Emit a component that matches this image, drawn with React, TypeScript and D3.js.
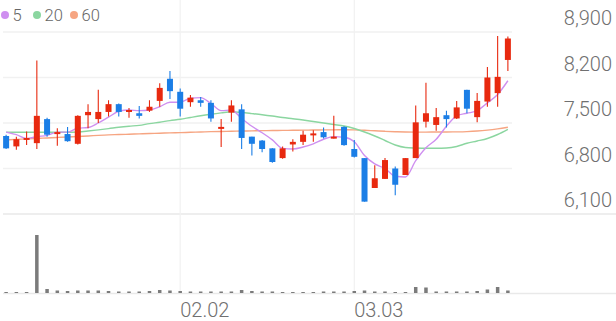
import React from "react";
import * as d3 from "d3";

const dates = [
  "01.08","01.09","01.12","01.13","01.14","01.15","01.16","01.19","01.20","01.21",
  "01.22","01.23","01.26","01.27","01.28","01.29","01.30","02.02","02.03","02.04",
  "02.05","02.06","02.09","02.10","02.11","02.12","02.13","02.19","02.20","02.23",
  "02.24","02.25","02.26","02.27","03.03","03.04","03.05","03.06","03.09","03.10",
  "03.11","03.12","03.13","03.16","03.17","03.18","03.19","03.20","03.23","03.24",
];
const open = [7300,7140,7240,7190,7560,7330,7330,7180,7620,7560,7670,7790,7670,7650,7690,7840,8180,7980,7820,7850,7810,7410,7660,7710,7290,7230,7110,6960,7170,7210,7320,7360,7260,7440,7100,6960,6500,6640,6800,6700,6960,7520,7470,7620,7570,8010,7590,7830,7960,8470];
const high = [7320,7290,7370,8460,7580,7420,7440,7620,7790,8010,7850,7800,7730,7760,7850,8110,8300,8030,7930,7900,7850,7560,7850,7790,7290,7240,7110,7140,7250,7380,7390,7430,7610,7450,7240,6960,6850,6960,6830,6960,7770,8120,7730,7690,7840,8010,7960,8360,8840,8830];
const low = [7100,7090,7160,7100,7290,7150,7210,7170,7420,7500,7600,7600,7580,7570,7670,7750,7870,7600,7750,7750,7520,7130,7520,7100,7000,7050,6890,6950,7060,7160,7210,7260,7260,7150,6970,6290,6500,6640,6390,6700,6960,7430,7380,7430,7560,7650,7510,7750,7750,8300];
const close = [7110,7250,7270,7610,7320,7360,7220,7610,7670,7670,7790,7670,7700,7610,7750,8040,7990,7720,7890,7810,7570,7440,7770,7270,7180,7100,6900,7110,7210,7320,7340,7280,7290,7160,6980,6290,6650,6930,6550,6960,7510,7650,7590,7560,7740,7720,7840,8200,8210,8800];
const ma5 = [7360,7320,7260,7290,7310,7360,7360,7420,7430,7500,7590,7680,7700,7690,7700,7750,7820,7820,7880,7890,7800,7690,7700,7570,7450,7350,7240,7110,7100,7130,7180,7250,7290,7280,7210,7000,6870,6800,6680,6670,6920,7120,7250,7450,7610,7650,7690,7810,7940,8150];
const ma20 = [7357,7357,7357,7357,7357,7357,7357,7362,7377,7395,7414,7435,7451,7463,7491,7512,7537,7557,7585,7612,7635,7655,7672,7661,7645,7628,7608,7585,7566,7546,7523,7500,7477,7454,7415,7362,7300,7231,7161,7123,7115,7111,7111,7115,7138,7188,7223,7262,7323,7403];
const ma60 = [7240,7248,7255,7262,7270,7278,7285,7292,7300,7310,7318,7322,7327,7333,7338,7343,7348,7352,7357,7362,7367,7370,7373,7376,7379,7382,7384,7386,7388,7390,7392,7394,7395,7396,7394,7388,7380,7372,7366,7362,7360,7360,7361,7362,7364,7368,7376,7390,7410,7435];
const volume = [100,100,100,5800,400,250,200,250,250,250,200,150,150,150,200,300,250,200,150,150,150,150,150,300,200,150,150,100,100,100,100,150,150,150,200,250,150,150,100,100,600,550,150,150,150,150,200,350,600,250];
const priceTicks = [6100, 6800, 7500, 8200, 8900];
const dateTicks = ["02.02", "03.03"];
const legendLabels = ["5", "20", "60"];
const maColors = ["#cf8ff0", "#8bd6a0", "#f6a582"];

const W = 616, H = 321;
const UP = "#e8290f", DOWN = "#1b7ee6";
const FONT = "Roboto, 'Noto Sans', sans-serif";

export default function App() {
  const x = d3.scaleBand<string>().domain(dates).range([1, 513]);
  const cx = (i: number) => (x(dates[i]) as number) + x.bandwidth() / 2;
  const y = d3.scaleLinear().domain([6100, 8900]).range([214, 32]);
  const yv = d3.scaleLinear().domain([0, 5800]).range([293, 235]);
  const idx = d3.range(dates.length);
  const line = (arr: number[]) =>
    d3.line<number>().x((i) => cx(i)).y((i) => y(arr[i])).curve(d3.curveMonotoneX)(idx) || "";
  const bodyW = 6;
  const volW = 3.5;

  return (
    <svg width={W} height={H} style={{ position: "absolute", left: 0, top: 0, background: "#fff" }}>
      {priceTicks.slice(1).map((t) => (
        <line key={t} x1={3} x2={512} y1={y(t)} y2={y(t)} stroke="#f1f1f1" strokeWidth={1.5} />
      ))}
      <line x1={3} x2={W} y1={y(6100)} y2={y(6100)} stroke="#e9e9e9" strokeWidth={1.5} />
      <line x1={3} x2={W} y1={293.5} y2={293.5} stroke="#e9e9e9" strokeWidth={1.5} />
      {dateTicks.map((d) => (
        <line key={d} x1={cx(dates.indexOf(d))} x2={cx(dates.indexOf(d))} y1={0} y2={293} stroke="#f1f1f1" strokeWidth={1.2} />
      ))}
      {[ma60, ma20, ma5].map((arr, k) => (
        <path key={k} d={line(arr)} fill="none" stroke={maColors[2 - k]} strokeWidth={1.4} />
      ))}
      {idx.map((i) => {
        const up = close[i] >= open[i];
        const c = up ? UP : DOWN;
        const top = y(Math.max(open[i], close[i]));
        const bot = y(Math.min(open[i], close[i]));
        return (
          <g key={i}>
            <line x1={cx(i)} x2={cx(i)} y1={y(high[i])} y2={y(low[i])} stroke={c} strokeWidth={1.1} />
            <rect x={cx(i) - bodyW / 2} y={top} width={bodyW} height={Math.max(2, bot - top)} fill={c} />
          </g>
        );
      })}
      {idx.map((i) => (
        <rect key={i} x={cx(i) - volW / 2} y={yv(volume[i])} width={volW} height={293 - yv(volume[i])} fill="#7b7b7b" />
      ))}
      {priceTicks.map((t) => (
        <text key={t} x={612} y={y(t) - 7} textAnchor="end" fontFamily={FONT} fontWeight={300} fontSize={20} fill="#707070">
          {d3.format(",")(t)}
        </text>
      ))}
      {dateTicks.map((d) => (
        <text key={d} x={cx(dates.indexOf(d))} y={317} fontFamily={FONT} fontWeight={300} fontSize={20} fill="#707070">
          {d}
        </text>
      ))}
      {legendLabels.map((l, k) => {
        const lx = [5, 37, 74][k];
        return (
          <g key={l}>
            <circle cx={lx} cy={15} r={4} fill={maColors[k]} />
            <text x={lx + 7.5} y={21} fontFamily={FONT} fontWeight={300} fontSize={16.5} fill="#666">{l}</text>
          </g>
        );
      })}
    </svg>
  );
}
